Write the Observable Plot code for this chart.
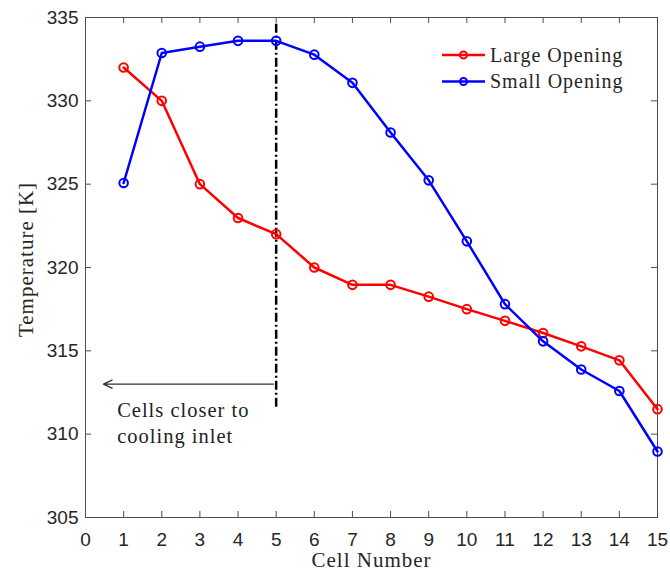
<!DOCTYPE html>
<html><head><meta charset="utf-8">
<script src="https://cdn.jsdelivr.net/npm/d3@7"></script>
<script src="https://cdn.jsdelivr.net/npm/@observablehq/plot@0.6"></script>
<style>
body{margin:0;background:#fff;}
g[font-family^="Liberation Serif"] text, text.serif { letter-spacing: 1px; }
</style>
</head><body><div id="chart"></div>
<script>
const cells = [1,2,3,4,5,6,7,8,9,10,11,12,13,14,15];
const largeOpening = [332.0, 330.0, 325.0, 322.97, 322.0, 320.0, 318.96, 318.96, 318.25, 317.5, 316.8, 316.07, 315.27, 314.43, 311.5];
const smallOpening = [325.07, 332.87, 333.25, 333.6, 333.6, 332.77, 331.08, 328.1, 325.23, 321.57, 317.8, 315.57, 313.88, 312.59, 308.96];
const seriesNames = ["Large Opening", "Small Opening"];
const seriesColors = ["#ff0000", "#0000ff"];
const xTicks = [0,1,2,3,4,5,6,7,8,9,10,11,12,13,14,15];
const yTicks = [305,310,315,320,325,330,335];
const divider = [{x: 5, y1: 334.6, y2: 311.6}];
const arrowData = [{x1: 4.93, x2: 0.47, y: 313.0}];
const noteData = [{x: 0.83, y: 312.1, text: "Cells closer to\ncooling inlet"}];

const rows = (vals, name) => cells.map((c, i) => ({cell: c, temp: vals[i], series: name}));
const large = rows(largeOpening, seriesNames[0]);
const small = rows(smallOpening, seriesNames[1]);

const serif = "Liberation Serif, Times New Roman, serif";
const sans = "Liberation Sans, Arial, Helvetica, sans-serif";
const axisColor = "#4d4d4d";
const textColor = "#262626";

const chart = Plot.plot({
  width: 670, height: 572,
  marginLeft: 85, marginRight: 13, marginTop: 17, marginBottom: 55,
  style: {fontFamily: sans, fontSize: "19px", color: textColor, background: "white"},
  x: {domain: [0, 15]},
  y: {domain: [305, 335]},
  marks: [
    Plot.frame({stroke: axisColor, strokeWidth: 1}),
    Plot.ruleX(xTicks, {x: d => d, y1: 305, y2: 305, insetTop: -6, stroke: axisColor}),
    Plot.ruleX(xTicks, {x: d => d, y1: 335, y2: 335, insetBottom: -6, stroke: axisColor}),
    Plot.ruleY(yTicks, {y: d => d, x1: 0, x2: 0, insetRight: -6, stroke: axisColor}),
    Plot.ruleY(yTicks, {y: d => d, x1: 15, x2: 15, insetLeft: -6, stroke: axisColor}),
    Plot.axisX({ticks: xTicks, tickSize: 0, tickPadding: 15, label: null, fontSize: 19, fontFamily: sans, fill: textColor, tickFormat: d => d}),
    Plot.axisY({ticks: yTicks, tickSize: 0, tickPadding: 7, label: null, fontSize: 19, fontFamily: sans, fill: textColor, tickFormat: d => d}),
    Plot.text(["Cell Number"], {frameAnchor: "bottom", dy: 43, lineAnchor: "middle", textAnchor: "middle", fontFamily: serif, fontSize: 21, fill: textColor}),
    Plot.text(["Temperature [K]"], {frameAnchor: "left", rotate: -90, textAnchor: "middle", dx: -59, dy: -8, fontFamily: serif, fontSize: 21, fill: textColor}),
    Plot.ruleX(divider, {x: "x", y1: "y1", y2: "y2", stroke: "black", strokeWidth: 2.5, strokeDasharray: "9,3,2,3"}),
    Plot.arrow(arrowData, {x1: "x1", x2: "x2", y1: "y", y2: "y", stroke: "#333", strokeWidth: 1.3, headLength: 11, headAngle: 50}),
    Plot.text(noteData, {x: "x", y: "y", text: "text", textAnchor: "start", lineAnchor: "top", lineHeight: 1.25, fontFamily: serif, fontSize: 20.5, fill: "#222"}),
    Plot.line(large, {x: "cell", y: "temp", stroke: seriesColors[0], strokeWidth: 2.5}),
    Plot.dot(large, {x: "cell", y: "temp", stroke: seriesColors[0], strokeWidth: 2, r: 4.3, fill: "none"}),
    Plot.line(small, {x: "cell", y: "temp", stroke: seriesColors[1], strokeWidth: 2.5}),
    Plot.dot(small, {x: "cell", y: "temp", stroke: seriesColors[1], strokeWidth: 2, r: 4.3, fill: "none"})
  ]
});
document.getElementById("chart").appendChild(chart);

// Legend (inside plot, top-right)
const svg = d3.select(chart);
const lg = svg.append("g").attr("font-family", serif).attr("font-size", 20).attr("fill", textColor).attr("text-anchor", "start");
seriesNames.forEach((name, i) => {
  const yy = 55 + i * 26.5;
  lg.append("line").attr("x1", 442).attr("x2", 485).attr("y1", yy).attr("y2", yy)
    .attr("stroke", seriesColors[i]).attr("stroke-width", 2.5);
  lg.append("circle").attr("cx", 463.5).attr("cy", yy).attr("r", 3.5)
    .attr("fill", "none").attr("stroke", seriesColors[i]).attr("stroke-width", 2);
  lg.append("text").attr("class", "serif").attr("x", 490).attr("y", yy).attr("dy", "0.33em").attr("text-anchor", "start").text(name);
});
</script>
</body></html>
